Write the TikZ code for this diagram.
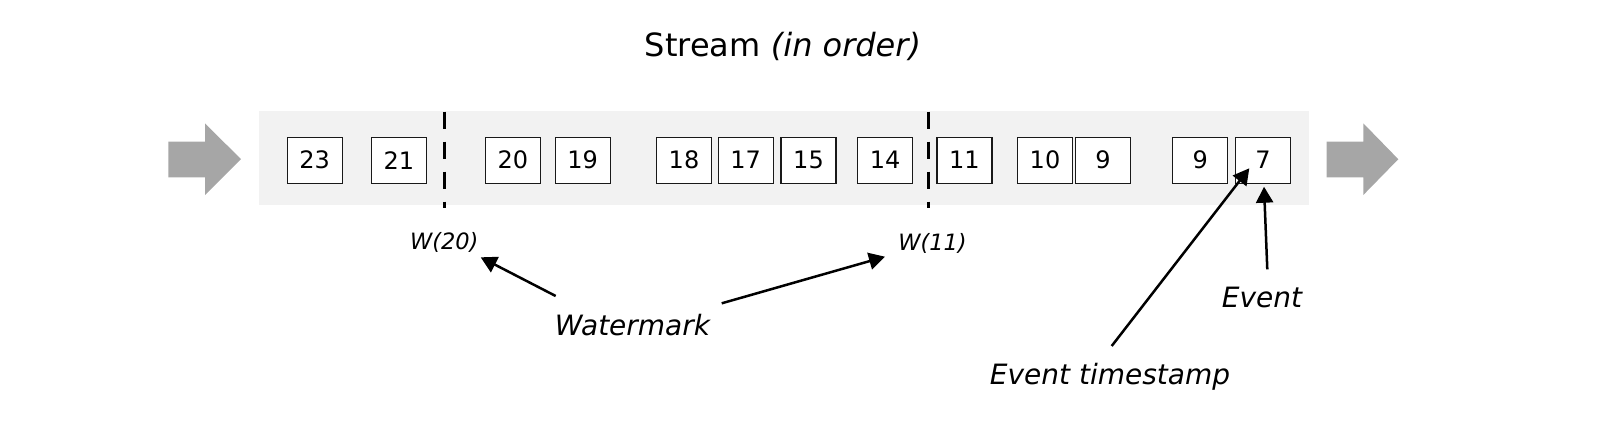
\documentclass[tikz,border=0pt]{standalone}
\usepackage{fontspec}
\setmainfont{DejaVu Sans}
\usetikzlibrary{arrows.meta}
\definecolor{bandgray}{HTML}{F2F2F2}
\definecolor{arrgray}{HTML}{A6A6A6}
\begin{document}
\begin{tikzpicture}[x=0.5pt,y=-0.5pt,
  evbox/.style={draw=black!90,line width=0.7pt,fill=white,minimum width=27.5pt,minimum height=23pt,inner sep=0pt,font=\fontsize{12}{14}\selectfont},
  wline/.style={line width=1.7pt,dash pattern=on 8.5pt off 6.5pt},
  wlbl/.style={inner sep=0pt,font=\fontsize{11.25}{13}\selectfont\itshape},
  biglbl/.style={inner sep=0pt,font=\fontsize{14}{16}\selectfont\itshape},
  arr/.style={line width=1.25pt,-{Triangle[length=8pt,width=8.5pt]}},
  bigarrow/.style={fill=arrgray}]
\useasboundingbox (0,0) rectangle (1602,420);
% band
\fill[bandgray] (259.3,111) rectangle (1309.3,205.3);
% big arrows
\fill[bigarrow] (168.3,141.7) -- (205,141.7) -- (205,123.3) -- (241,159.2) -- (205,195) -- (205,177.3) -- (168.3,177.3) -- cycle;
\fill[bigarrow] (1326.7,141.7) -- (1363.3,141.7) -- (1363.3,123.3) -- (1398.3,159.2) -- (1363.3,195) -- (1363.3,177.3) -- (1326.7,177.3) -- cycle;
% title
\node[inner sep=0pt,anchor=base,font=\fontsize{16}{19}\selectfont] (title) at (783,56) {Stream \textit{(in order)}};
% events
\node[evbox] (b23) at (314.7,160.2) {23};
\node[evbox] (b21) at (399,160.2) {21};
\node[evbox] (b20) at (513,160.2) {20};
\node[evbox] (b19) at (582.7,160.2) {19};
\node[evbox] (b18) at (684,160.2) {18};
\node[evbox] (b17) at (745.7,160.2) {17};
\node[evbox] (b15) at (808.5,160.2) {15};
\node[evbox] (b14) at (885.2,160.2) {14};
\node[evbox] (b11) at (964.3,160.2) {11};
\node[evbox] (b10) at (1045,160.2) {10};
\node[evbox] (b9a) at (1103,160.2) {9};
\node[evbox] (b9b) at (1200.2,160.2) {9};
\node[evbox] (b7) at (1263,160.2) {7};
% watermarks
\coordinate (wa1) at (444.3,111.7);
\coordinate (wa2) at (444.3,208.3);
\coordinate (wb1) at (928.7,111.7);
\coordinate (wb2) at (928.7,208.3);
\draw[wline] (wa1) -- (wa2);
\draw[wline] (wb1) -- (wb2);
% labels
\node[wlbl,anchor=base] (w20) at (444.3,249.5) {W(20)};
\node[wlbl,anchor=base] (w11) at (932.5,250.5) {W(11)};
\node[biglbl,anchor=base] (wm) at (632.5,335) {Watermark};
\node[biglbl,anchor=base] (ev) at (1262,307.3) {Event};
\node[biglbl,anchor=base] (ets) at (1110,384) {Event timestamp};
% connectors
\coordinate (wmL) at (555.7,296);
\coordinate (wmR) at (721.7,303.3);
\coordinate (w20t) at (480.7,257.3);
\coordinate (w11t) at (885,256.7);
\coordinate (evS) at (1267.3,269.3);
\coordinate (evT) at (1264,186.7);
\coordinate (etsS) at (1111.7,346);
\coordinate (etsT) at (1249.3,168.3);
\draw[arr] (wmL) -- (w20t);
\draw[arr] (wmR) -- (w11t);
\draw[arr] (evS) -- (evT);
\draw[arr] (etsS) -- (etsT);
\end{tikzpicture}
\end{document}
